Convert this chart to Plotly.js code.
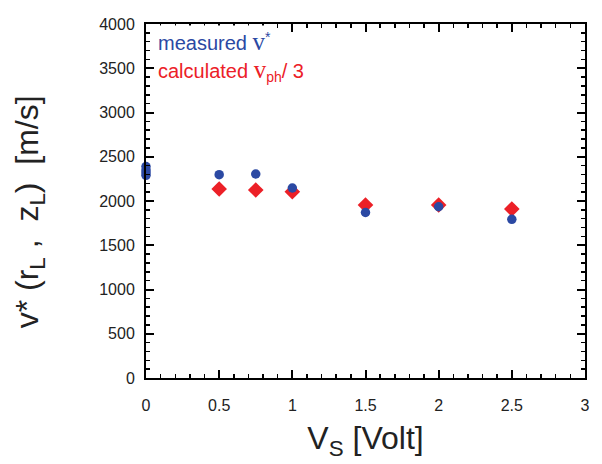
<!DOCTYPE html>
<html>
<head>
<meta charset="utf-8">
<script src="https://cdn.plot.ly/plotly-3.0.1.min.js"></script>
<style>html,body{margin:0;padding:0;background:#fff;}</style>
</head>
<body>
<div id="chart" style="width:602px;height:464px;"></div>
<script>
// Measured v* (blue circles)
const measuredX = [0, 0, 0, 0, 0.5, 0.75, 1, 1.5, 2, 2.5];
const measuredY = [2290, 2320, 2350, 2390, 2297, 2305, 2147, 1870, 1935, 1793];
// Calculated v_ph / 3 (red diamonds)
const calcX = [0.5, 0.75, 1, 1.5, 2, 2.5];
const calcY = [2135, 2124, 2105, 1955, 1955, 1910];

const xTicks = [0, 0.5, 1, 1.5, 2, 2.5, 3];
const xTickText = ['0', '0.5', '1', '1.5', '2', '2.5', '3'];
const yTicks = [0, 500, 1000, 1500, 2000, 2500, 3000, 3500, 4000];
const xRange = [0, 3];
const yRange = [0, 4000];

const BLUE = 'rgb(43,73,163)';
const RED = 'rgb(236,32,39)';
const FONT = 'Liberation Sans, Arial, Helvetica, sans-serif';
const SERIF = 'Liberation Serif, Times New Roman, serif';

const traces = [
  {
    x: calcX, y: calcY, type: 'scatter', mode: 'markers', name: 'calculated',
    marker: {symbol: 'diamond', size: 12, color: RED},
    cliponaxis: false, showlegend: false
  },
  {
    x: measuredX, y: measuredY, type: 'scatter', mode: 'markers', name: 'measured',
    marker: {symbol: 'circle', size: 9.5, color: BLUE},
    cliponaxis: false, showlegend: false
  },
  // empty trace carrying the label axes
  {x: [], y: [], type: 'scatter', mode: 'markers', xaxis: 'x2', yaxis: 'y2', showlegend: false, hoverinfo: 'skip'}
];

const layout = {
  width: 602, height: 464,
  margin: {l: 146, r: 17, t: 24, b: 86},
  paper_bgcolor: '#fff', plot_bgcolor: '#fff',
  font: {family: FONT},
  // frame + inside ticks
  xaxis: {
    range: xRange, tickmode: 'array', tickvals: xTicks, showticklabels: false,
    showline: true, linecolor: '#000', linewidth: 2, mirror: 'allticks',
    ticks: 'inside', ticklen: 8, tickwidth: 2, tickcolor: '#000',
    showgrid: false, zeroline: false,
    minor: {dtick: 0.1, ticks: 'inside', ticklen: 4, tickwidth: 1.5, tickcolor: '#000'}
  },
  yaxis: {
    range: yRange, tickmode: 'array', tickvals: yTicks, showticklabels: false,
    showline: true, linecolor: '#000', linewidth: 2, mirror: 'allticks',
    ticks: 'inside', ticklen: 8, tickwidth: 2, tickcolor: '#000',
    showgrid: false, zeroline: false,
    minor: {dtick: 100, ticks: 'inside', ticklen: 4, tickwidth: 1.5, tickcolor: '#000'}
  },
  // label axes (transparent outside ticks act as label offset)
  xaxis2: {
    overlaying: 'x', anchor: 'y2', side: 'bottom',
    range: xRange, tickmode: 'array', tickvals: xTicks, ticktext: xTickText,
    ticks: 'outside', ticklen: 13, tickcolor: 'rgba(0,0,0,0)',
    showline: false, showgrid: false, zeroline: false,
    tickfont: {family: FONT, size: 16, color: '#222'},
    title: {text: 'V<sub>S</sub> [Volt]', font: {family: FONT, size: 32, color: '#222'}, standoff: 13}
  },
  yaxis2: {
    overlaying: 'y', anchor: 'x2', side: 'left',
    range: yRange, tickmode: 'array', tickvals: yTicks,
    ticks: 'outside', ticklen: 7, tickcolor: 'rgba(0,0,0,0)',
    showline: false, showgrid: false, zeroline: false,
    tickfont: {family: FONT, size: 16, color: '#222'}
  },
  annotations: [
    {
      // y axis title
      xref: 'paper', yref: 'paper', x: -0.265, y: 0.47, xanchor: 'center', yanchor: 'middle',
      textangle: -90, showarrow: false,
      text: 'v* (r<sub>L</sub> ,  z<sub>L</sub>)  [m/s]',
      font: {family: FONT, size: 32, color: '#222'}
    },
    {
      xref: 'paper', yref: 'paper', x: 0.02, y: 0.95, xanchor: 'left', yanchor: 'middle',
      text: 'measured <span style="font-family:' + SERIF + ';font-size:25px">v</span><sup>*</sup>',
      showarrow: false, align: 'left',
      font: {family: FONT, size: 20, color: BLUE},
      bgcolor: '#fff', borderpad: 2
    },
    {
      xref: 'paper', yref: 'paper', x: 0.02, y: 0.87, xanchor: 'left', yanchor: 'middle',
      text: 'calculated <span style="font-family:' + SERIF + ';font-size:25px">v</span><sub>ph</sub>/ 3',
      showarrow: false, align: 'left',
      font: {family: FONT, size: 20, color: RED},
      borderpad: 2
    }
  ]
};

Plotly.newPlot('chart', traces, layout, {displayModeBar: false, staticPlot: true});
</script>
</body>
</html>
